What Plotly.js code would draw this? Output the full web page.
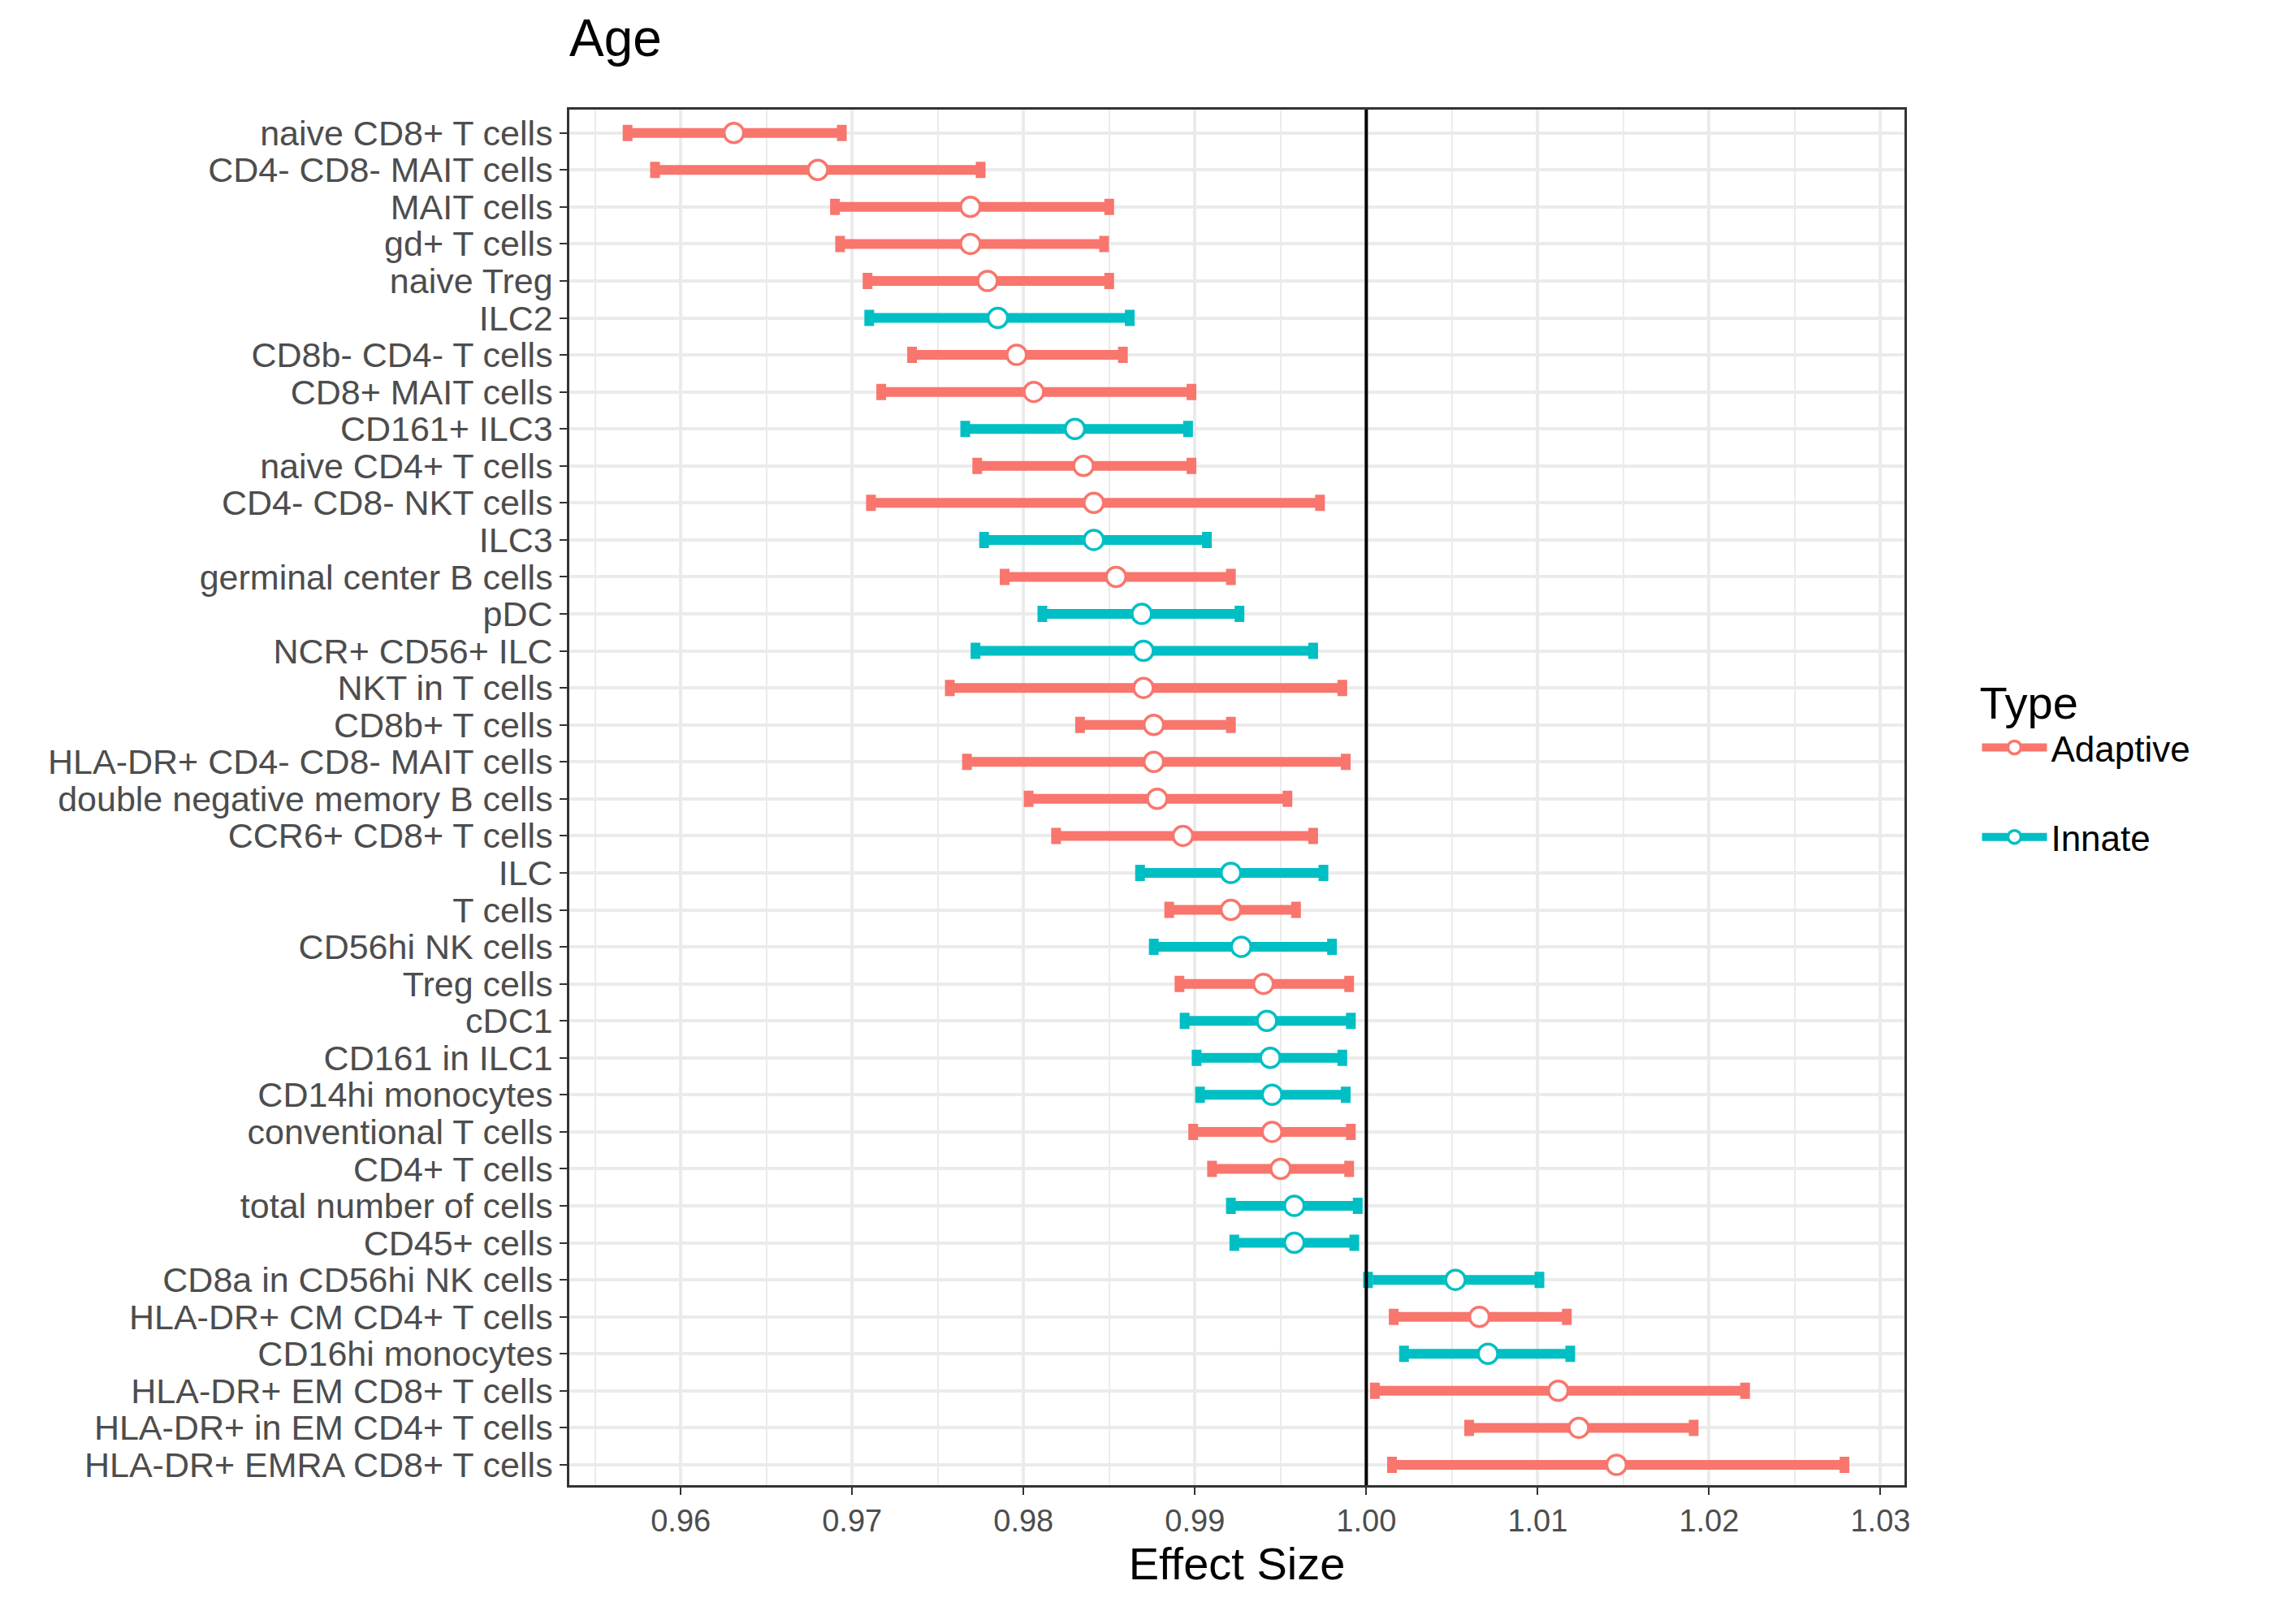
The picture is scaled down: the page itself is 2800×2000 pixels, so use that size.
<!DOCTYPE html>
<html>
<head>
<meta charset="utf-8">
<script src="https://cdn.plot.ly/plotly-3.0.1.min.js"></script>
<style>body{margin:0;background:#fff}</style>
</head>
<body>
<div id="myDiv" style="width:2800px;height:2000px"></div>
<script>
// cell populations, top to bottom
var cells = ["naive CD8+ T cells","CD4- CD8- MAIT cells","MAIT cells","gd+ T cells","naive Treg","ILC2",
  "CD8b- CD4- T cells","CD8+ MAIT cells","CD161+ ILC3","naive CD4+ T cells","CD4- CD8- NKT cells","ILC3",
  "germinal center B cells","pDC","NCR+ CD56+ ILC","NKT in T cells","CD8b+ T cells","HLA-DR+ CD4- CD8- MAIT cells",
  "double negative memory B cells","CCR6+ CD8+ T cells","ILC","T cells","CD56hi NK cells","Treg cells","cDC1",
  "CD161 in ILC1","CD14hi monocytes","conventional T cells","CD4+ T cells","total number of cells","CD45+ cells",
  "CD8a in CD56hi NK cells","HLA-DR+ CM CD4+ T cells","CD16hi monocytes","HLA-DR+ EM CD8+ T cells",
  "HLA-DR+ in EM CD4+ T cells","HLA-DR+ EMRA CD8+ T cells"];
var types = ["A","A","A","A","A","I","A","A","I","A","A","I","A","I","I","A","A","A","A","A","I","A","I","A","I",
  "I","I","A","A","I","I","I","A","I","A","A","A"];
var effect = [0.9631,0.9680,0.9769,0.9769,0.9779,0.9785,0.9796,0.9806,0.9830,0.9835,0.9841,0.9841,0.9854,0.9869,
  0.9870,0.9870,0.9876,0.9876,0.9878,0.9893,0.9921,0.9921,0.9927,0.9940,0.9942,0.9944,0.9945,0.9945,0.9950,
  0.9958,0.9958,1.0052,1.0066,1.0071,1.0112,1.0124,1.0146];
var lower = [0.9569,0.9585,0.9690,0.9693,0.9709,0.9710,0.9735,0.9717,0.9766,0.9773,0.9711,0.9777,0.9789,0.9811,
  0.9772,0.9757,0.9833,0.9767,0.9803,0.9819,0.9868,0.9885,0.9876,0.9891,0.9894,0.9901,0.9903,0.9899,0.9910,
  0.9921,0.9923,1.0001,1.0016,1.0022,1.0005,1.0060,1.0015];
var upper = [0.9694,0.9775,0.9850,0.9847,0.9850,0.9862,0.9858,0.9898,0.9896,0.9898,0.9973,0.9907,0.9921,0.9926,
  0.9969,0.9986,0.9921,0.9988,0.9954,0.9969,0.9975,0.9959,0.9980,0.9990,0.9991,0.9986,0.9988,0.9991,0.9990,
  0.9995,0.9993,1.0101,1.0117,1.0119,1.0221,1.0191,1.0279];
var typeNames = {A: "Adaptive", I: "Innate"};
var typeColors = {A: "#F8766D", I: "#00BFC4"};

var data = [];
["A","I"].forEach(function (t) {
    var x = [], y = [], plus = [], minus = [];
    for (var i = 0; i < cells.length; i++) {
        if (types[i] !== t) continue;
        x.push(effect[i]);
        y.push(i);
        plus.push(upper[i] - effect[i]);
        minus.push(effect[i] - lower[i]);
    }
    data.push({
        type: 'scatter', mode: 'markers', x: x, y: y, showlegend: false,
        marker: {size: 24, color: 'white', line: {color: typeColors[t], width: 3.5}},
        error_x: {type: 'data', symmetric: false, array: plus, arrayminus: minus,
                  color: typeColors[t], thickness: 12, width: 10}
    });
});
// legend keys
["A","I"].forEach(function (t) {
    data.push({
        type: 'scatter', mode: 'lines+markers', x: [null], y: [null], name: typeNames[t],
        legendgroup: t,
        line: {color: typeColors[t], width: 12},
        marker: {size: 26, color: 'white', line: {color: typeColors[t], width: 3.5}}
    });
});

var layout = {
    width: 2800, height: 2000,
    margin: {l: 701, r: 455, t: 135, b: 171},
    paper_bgcolor: 'white', plot_bgcolor: 'white',
    font: {family: 'Liberation Sans, Arial, sans-serif', color: '#000'},
    title: {text: 'Age', x: 701/2800, xanchor: 'left', y: 0.988, yanchor: 'top',
            font: {size: 64, color: '#000'}},
    xaxis: {
        range: [0.9535, 1.0314], tickvals: [0.96,0.97,0.98,0.99,1.00,1.01,1.02,1.03],
        tickformat: '.2f', ticks: 'outside', ticklen: 9, tickwidth: 2, tickcolor: '#333',
        tickfont: {size: 38, color: '#4d4d4d'},
        showgrid: true, gridcolor: '#ebebeb', gridwidth: 3.5,
        minor: {dtick: 0.005, showgrid: true, gridcolor: '#ebebeb', gridwidth: 1.8},
        zeroline: false, showline: true, mirror: true, linecolor: '#333', linewidth: 2.5,
        title: {text: 'Effect Size', font: {size: 56, color: '#000'}, standoff: 12}
    },
    yaxis: {
        range: [36.55, -0.63], tickvals: cells.map(function (c, i) { return i; }), ticktext: cells,
        ticks: 'outside', ticklen: 9, tickwidth: 2, tickcolor: '#333',
        tickfont: {size: 43, color: '#4d4d4d'},
        showgrid: true, gridcolor: '#ebebeb', gridwidth: 3.5,
        zeroline: false, showline: true, mirror: true, linecolor: '#333', linewidth: 2.5
    },
    shapes: [{type: 'line', xref: 'x', yref: 'paper', x0: 1, x1: 1, y0: 0, y1: 1,
              line: {color: '#000', width: 4}}],
    legend: {x: 1.055, y: 0.6, xanchor: 'left', yanchor: 'top',
             title: {text: 'Type', font: {size: 56, color: '#000'}},
             font: {size: 44, color: '#000'}, itemwidth: 80, tracegroupgap: 50}
};

Plotly.newPlot('myDiv', data, layout, {displayModeBar: false});
</script>
</body>
</html>
